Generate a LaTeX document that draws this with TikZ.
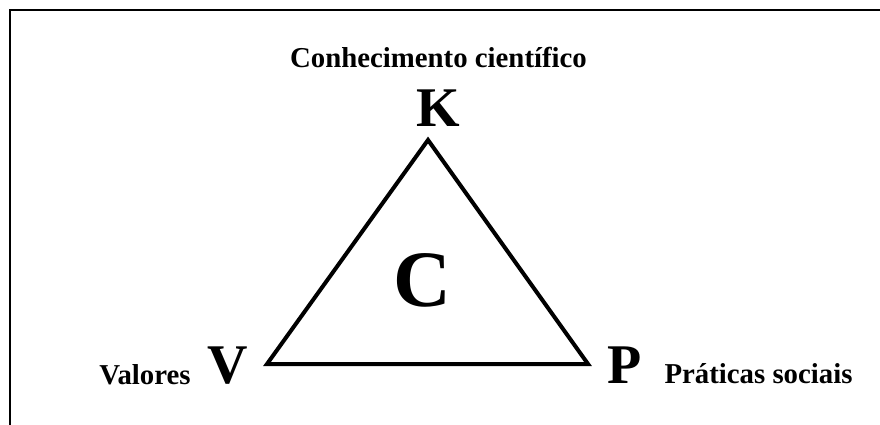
\documentclass[tikz,border=0pt]{standalone}
\usepackage{fontspec}
\setmainfont{Liberation Serif}
\usepackage{tikz}
\usetikzlibrary{positioning}

\begin{document}
\begin{tikzpicture}[x=1pt,y=-1pt,
    lbl/.style={font=\fontsize{28.8}{34}\selectfont\bfseries,inner sep=0pt,anchor=base},
    vtx/.style={font=\fontsize{56}{60}\selectfont\bfseries,inner sep=0pt,anchor=base}]
  \useasboundingbox (0,0) rectangle (880,425);
  \draw[line width=2.5pt] (880,10) -- (10,10) -- (10,425);
  % vertices of the triangle
  \coordinate (kv) at (428,140);
  \coordinate (vv) at (267,364);
  \coordinate (pv) at (588,364);
  \draw[line width=4pt,line join=miter] (kv) -- (vv) -- (pv) -- cycle;
  \node[vtx] (K) at (438.5,126) {K};
  \node[vtx] (V) at (227.5,383) {V};
  \node[vtx] (P) at (625,383) {P};
  \node[font=\fontsize{80}{84}\selectfont\bfseries,inner sep=0pt,anchor=base] (C) at (422,306) {C};
  \node[lbl] (conhec) at (438.5,68) {Conhecimento científico};
  \node[lbl] (valores) at (145,384) {Valores};
  \node[lbl] (praticas) at (758.5,383) {Práticas sociais};
\end{tikzpicture}
\end{document}
